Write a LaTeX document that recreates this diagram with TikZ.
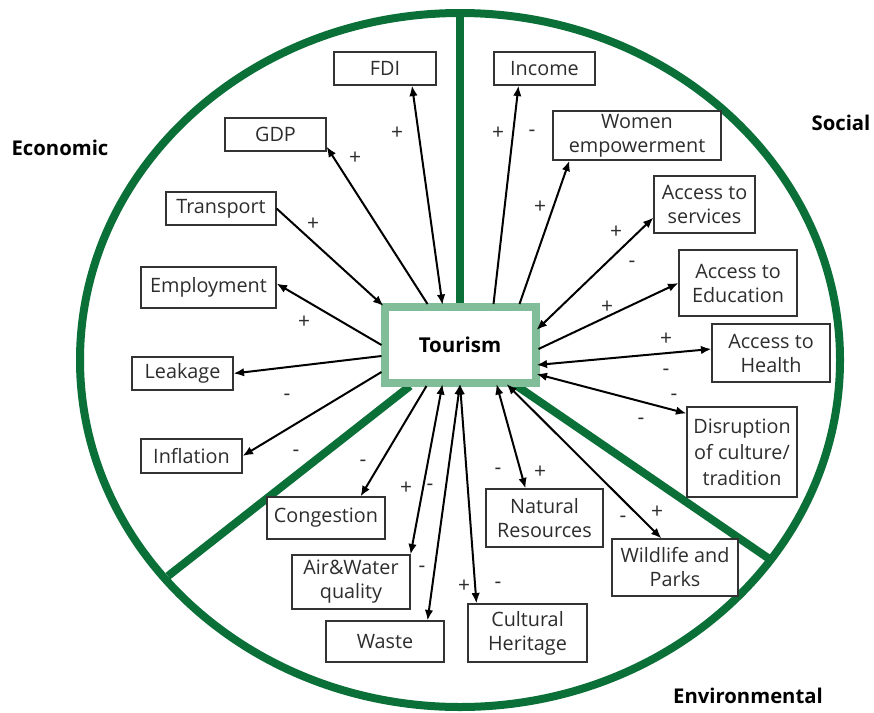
\documentclass[tikz,border=0pt]{standalone}
\usepackage{fontspec}
\setmainfont{Open Sans}
\usetikzlibrary{arrows.meta,calc}
\definecolor{ringgreen}{RGB}{10,112,55}
\definecolor{lightgreen}{RGB}{130,189,154}
\definecolor{txt}{RGB}{45,45,45}
\begin{document}
\begin{tikzpicture}[x=1pt,y=-1pt,
  ring/.style={draw=ringgreen, line width=8pt},
  box/.style={draw=black!80, line width=1.1pt, fill=white, inner sep=0pt, align=center,
    font=\fontsize{19.8}{24}\selectfont, text=txt},
  hub/.style={draw=lightgreen, line width=8pt, fill=white, inner sep=0pt,
    minimum width=151pt, minimum height=76pt, font=\fontsize{20.5}{23}\selectfont\bfseries},
  sector/.style={font=\fontsize{20.3}{23}\selectfont\bfseries, inner sep=0pt},
  sgn/.style={font=\fontsize{21}{23}\selectfont, text=txt, inner sep=0pt},
  conn/.style={line width=2pt, -{Latex[length=10.5pt,width=8.5pt]}},
  biconn/.style={line width=2pt, {Latex[length=10.5pt,width=8.5pt]}-{Latex[length=10.5pt,width=8.5pt]}}]
\useasboundingbox (0,0) rectangle (874,712);
% ring and dividers
\coordinate (ctr) at (460,360);
\coordinate (dtop) at (460,12);
\coordinate (dhub) at (460,345);
\coordinate (dll) at (168,576);
\coordinate (dlr) at (768,558);
\draw[ring] (ctr) ellipse [x radius=380pt, y radius=347pt];
\draw[ring] (dtop) -- (dhub);
\draw[ring] (410,386) -- (dll);
\draw[ring] (514,384) -- (dlr);
% hub
\node[hub] (T) at (460,345) {Tourism};
% sector labels
\node[sector] (econ) at (60,148) {Economic};
\node[sector] (soc) at (841,123) {Social};
\node[sector] (env) at (748,696) {Environmental};
% boxes
\node[box, minimum width=102pt, minimum height=33pt] (FDI) at (385,68.5) {FDI};
\node[box, minimum width=101pt, minimum height=33pt] (GDP) at (275.5,134.5) {GDP};
\node[box, minimum width=110pt, minimum height=33pt] (TR) at (221,208.5) {Transport};
\node[box, minimum width=135pt, minimum height=41pt] (EMP) at (208.5,287.5) {Employment};
\node[box, minimum width=101pt, minimum height=33pt] (LEA) at (182.5,373.5) {Leakage};
\node[box, minimum width=101pt, minimum height=34pt] (INF) at (191.5,456) {Inflation};
\node[box, minimum width=101pt, minimum height=33pt] (INC) at (544.5,68.5) {Income};
\node[box, minimum width=168pt, minimum height=49pt] (WOM) at (637,135.5) {Women\\empowerment};
\node[box, minimum width=101pt, minimum height=57pt] (SER) at (704.5,204.5) {Access to\\services};
\node[box, minimum width=118pt, minimum height=66pt] (EDU) at (738,283) {Access to\\Education};
\node[box, minimum width=118pt, minimum height=58pt] (HEA) at (771,353) {Access to\\Health};
\node[box, minimum width=110pt, minimum height=90pt, font=\fontsize{19.8}{26}\selectfont] (DIS) at (742,452) {Disruption\\of culture/\\tradition};
\node[box, minimum width=118pt, minimum height=42pt] (CON) at (326,518) {Congestion};
\node[box, minimum width=118pt, minimum height=54pt] (AIR) at (351,582) {Air\&Water\\quality};
\node[box, minimum width=118pt, minimum height=41pt] (WAS) at (385,641.5) {Waste};
\node[box, minimum width=117pt, minimum height=58pt] (NAT) at (544.5,518) {Natural\\Resources};
\node[box, minimum width=119pt, minimum height=58pt] (CUL) at (527.5,633) {Cultural\\Heritage};
\node[box, minimum width=126pt, minimum height=57pt] (WIL) at (675,567.5) {Wildlife and\\Parks};
% connectors
\draw[biconn] ($(T.north west)+(62,2)$) -- ($(FDI.south)+(27,0)$);
\draw[conn] ($(T.north west)+(47,1)$) -- ($(GDP.south east)+(0,-5)$);
\draw[conn] (TR.east) -- ($(T.north west)+(3,3)$);
\draw[conn] ($(T.north west)+(1,42)$) -- ($(EMP.east)+(0,-4)$);
\draw[conn] ($(T.north west)+(1,53)$) -- (LEA.east);
\draw[conn] ($(T.north west)+(1,69)$) -- (INF.east);
\draw[conn] ($(T.north west)+(113,1)$) -- ($(INC.south)+(-26,0)$);
\draw[conn] ($(T.north west)+(139,1)$) -- ($(WOM.south west)+(17,0)$);
\draw[biconn] ($(T.north east)+(-3,27)$) -- ($(SER.south west)+(0,-16)$);
\draw[conn] ($(T.north east)+(-1,46)$) -- (EDU.west);
\draw[biconn] ($(T.north east)+(-3,62)$) -- ($(HEA.west)+(0,-4)$);
\draw[biconn] ($(T.north east)+(-3,71)$) -- ($(DIS.north west)+(0,7)$);
\draw[conn] ($(T.south west)+(46,-1)$) -- ($(CON.north east)+(-25,0)$);
\draw[biconn] ($(T.south west)+(62,-3)$) -- (AIR.north east);
\draw[biconn] ($(T.south)+(0,-3)$) -- ($(WAS.north east)+(-17,0)$);
\draw[biconn] ($(T.south)+(0,-3)$) -- ($(CUL.north west)+(9,0)$);
\draw[biconn] ($(T.south west)+(116,-3)$) -- ($(NAT.north west)+(40,0)$);
\draw[biconn] ($(T.south west)+(126,-3)$) -- ($(WIL.north west)+(50,0)$);
% signs
\node[sgn] (s1) at (397,133) {+};
\node[sgn] (s2) at (355,158) {+};
\node[sgn] (s3) at (313,224) {+};
\node[sgn] (s4) at (304,322) {+};
\node[sgn] (s5) at (287,397) {-};
\node[sgn] (s6) at (296,453) {-};
\node[sgn] (s7) at (363,463) {-};
\node[sgn] (s8) at (406,488) {+};
\node[sgn] (s9) at (430,487) {-};
\node[sgn] (s10) at (422,569) {-};
\node[sgn] (s11) at (464,586) {+};
\node[sgn] (s12) at (498,585) {-};
\node[sgn] (s13) at (498,471) {-};
\node[sgn] (s14) at (540,472) {+};
\node[sgn] (s15) at (623,519) {-};
\node[sgn] (s16) at (657,512) {+};
\node[sgn] (s17) at (498,133) {+};
\node[sgn] (s18) at (532,133) {-};
\node[sgn] (s19) at (540,207) {+};
\node[sgn] (s20) at (616,232) {+};
\node[sgn] (s21) at (632,264) {-};
\node[sgn] (s22) at (607,307) {+};
\node[sgn] (s23) at (666,339) {+};
\node[sgn] (s24) at (666,372) {-};
\node[sgn] (s25) at (674,397) {-};
\node[sgn] (s26) at (641,421) {-};
\end{tikzpicture}
\end{document}
